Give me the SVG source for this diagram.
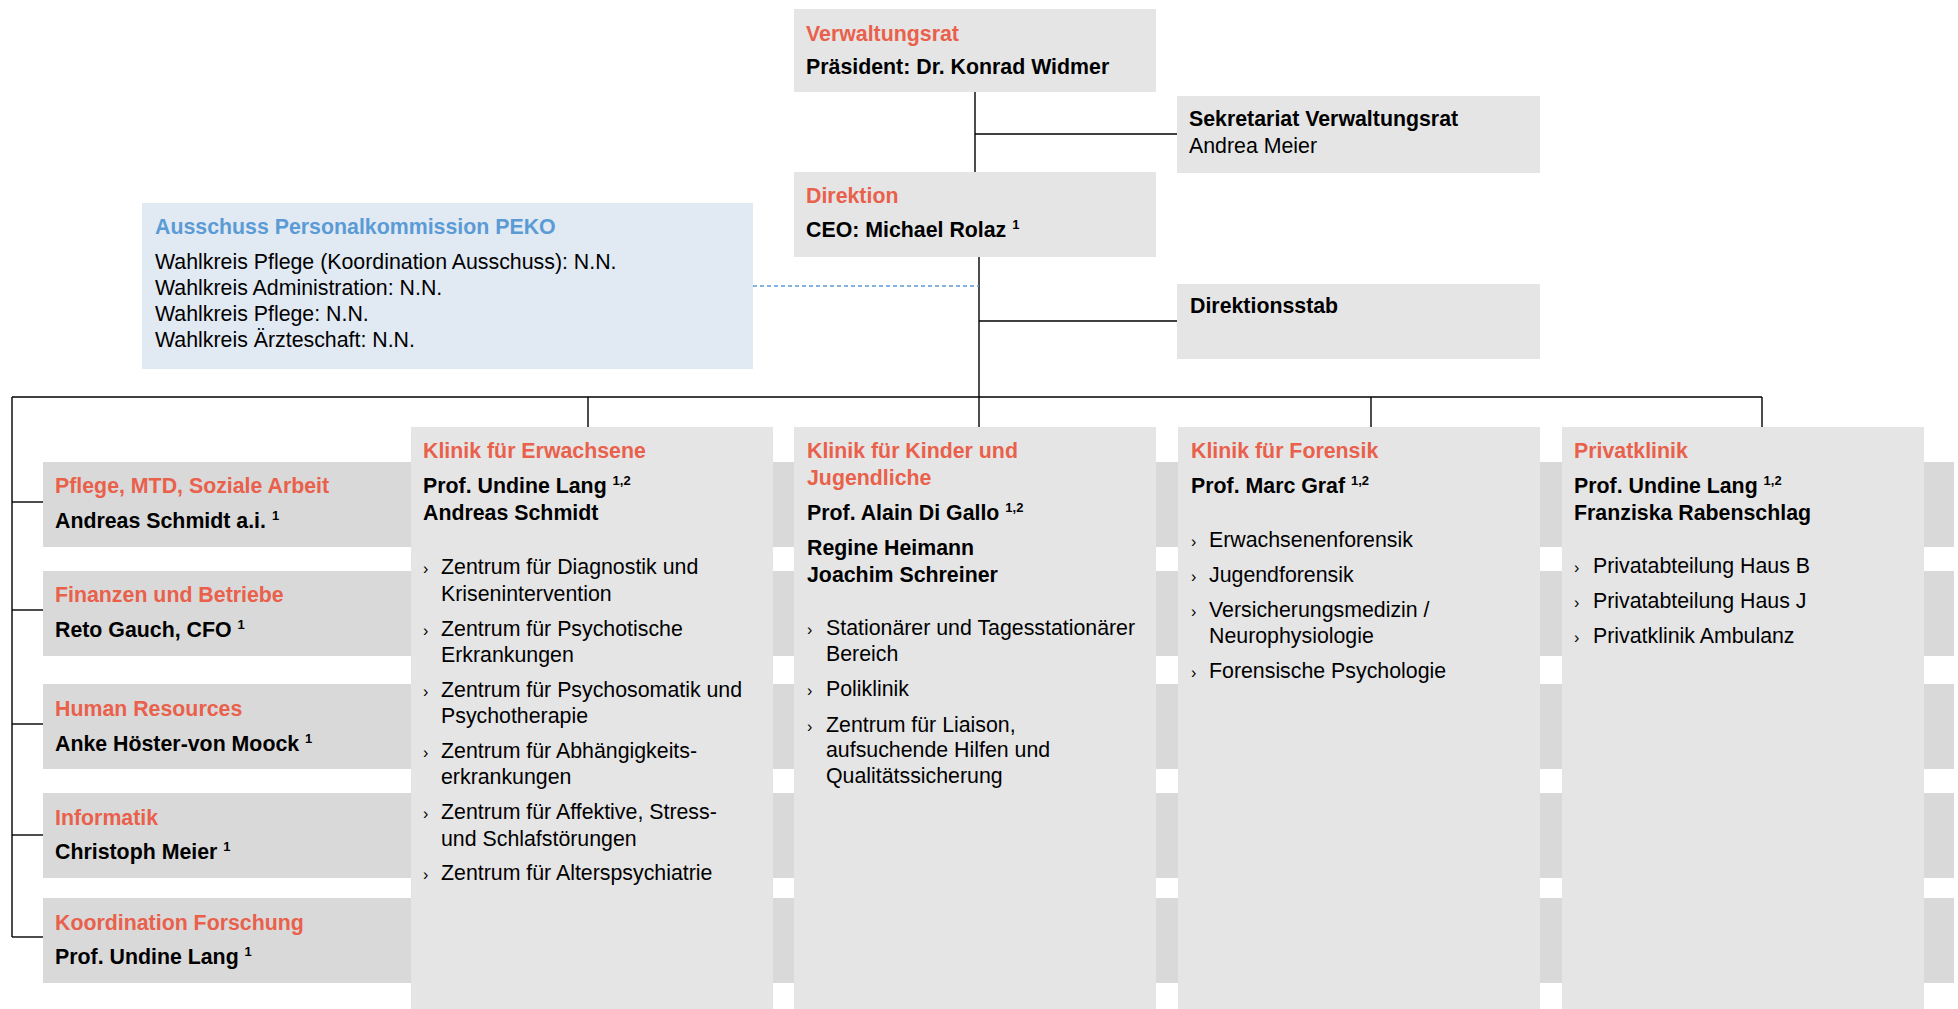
<svg xmlns="http://www.w3.org/2000/svg" width="1958" height="1009" viewBox="0 0 1958 1009">
<style>
text{font-family:"Liberation Sans",Arial,sans-serif;font-size:21.33px;fill:#000}
.h{font-weight:bold;fill:#e9604b}
.hb{font-weight:bold;fill:#5b9bd5}
.b{font-weight:bold}
.sup{font-size:13px;font-weight:bold}
.bul{font-size:16px}
.box{fill:#e5e5e5}
.band{fill:#d9d9d9}
.peko{fill:#e1e9f3}
.ln{stroke:#000;stroke-width:1.4;fill:none}
.dash{stroke:#5b9bd5;stroke-width:1.5;stroke-dasharray:4 3;fill:none}
</style>
<rect width="1958" height="1009" fill="#fff"/>

<g id="connectors">
<line class="ln" x1="975" y1="92" x2="975" y2="172"/>
<line class="ln" x1="975" y1="134" x2="1177" y2="134"/>
<line class="ln" x1="979" y1="257" x2="979" y2="427"/>
<line class="ln" x1="979" y1="321" x2="1177" y2="321"/>
<line class="dash" x1="753" y1="286" x2="979" y2="286"/>
<line class="ln" x1="12" y1="397" x2="1762" y2="397"/>
<line class="ln" x1="588" y1="397" x2="588" y2="427"/>
<line class="ln" x1="1371" y1="397" x2="1371" y2="427"/>
<line class="ln" x1="1762" y1="397" x2="1762" y2="427"/>
<line class="ln" x1="12" y1="397" x2="12" y2="937"/>
<line class="ln" x1="12" y1="502" x2="43" y2="502"/>
<line class="ln" x1="12" y1="610" x2="43" y2="610"/>
<line class="ln" x1="12" y1="724" x2="43" y2="724"/>
<line class="ln" x1="12" y1="835" x2="43" y2="835"/>
<line class="ln" x1="12" y1="937" x2="43" y2="937"/>
</g>

<g id="verwaltungsrat">
<rect class="box" x="794" y="9" width="362" height="83"/>
<text class="h" x="806" y="41">Verwaltungsrat</text>
<text class="b" x="806" y="74">Präsident: Dr. Konrad Widmer</text>
</g>

<g id="sekretariat">
<rect class="box" x="1177" y="96" width="363" height="77"/>
<text class="b" x="1189" y="126">Sekretariat Verwaltungsrat</text>
<text x="1189" y="153">Andrea Meier</text>
</g>

<g id="direktion">
<rect class="box" x="794" y="172" width="362" height="85"/>
<text class="h" x="806" y="203">Direktion</text>
<text class="b" x="806" y="237">CEO: Michael Rolaz <tspan class="sup" dy="-8">1</tspan></text>
</g>

<g id="direktionsstab">
<rect class="box" x="1177" y="284" width="363" height="75"/>
<text class="b" x="1190" y="313">Direktionsstab</text>
</g>

<g id="peko">
<rect class="peko" x="142" y="203" width="611" height="166"/>
<text class="hb" x="155" y="234">Ausschuss Personalkommission PEKO</text>
<text x="155" y="269">Wahlkreis Pflege (Koordination Ausschuss): N.N.</text>
<text x="155" y="295">Wahlkreis Administration: N.N.</text>
<text x="155" y="321">Wahlkreis Pflege: N.N.</text>
<text x="155" y="347">Wahlkreis Ärzteschaft: N.N.</text>
</g>

<g id="pflege">
<rect class="band" x="43" y="462" width="1911" height="85"/>
<text class="h" x="55" y="493">Pflege, MTD, Soziale Arbeit</text>
<text class="b" x="55" y="528">Andreas Schmidt a.i. <tspan class="sup" dy="-8">1</tspan></text>
</g>

<g id="finanzen">
<rect class="band" x="43" y="571" width="1911" height="85"/>
<text class="h" x="55" y="602">Finanzen und Betriebe</text>
<text class="b" x="55" y="637">Reto Gauch, CFO <tspan class="sup" dy="-8">1</tspan></text>
</g>

<g id="hr">
<rect class="band" x="43" y="684" width="1911" height="85"/>
<text class="h" x="55" y="716">Human Resources</text>
<text class="b" x="55" y="751">Anke Höster-von Moock <tspan class="sup" dy="-8">1</tspan></text>
</g>

<g id="informatik">
<rect class="band" x="43" y="793" width="1911" height="85"/>
<text class="h" x="55" y="825">Informatik</text>
<text class="b" x="55" y="859">Christoph Meier <tspan class="sup" dy="-8">1</tspan></text>
</g>

<g id="forschung">
<rect class="band" x="43" y="898" width="1911" height="85"/>
<text class="h" x="55" y="930">Koordination Forschung</text>
<text class="b" x="55" y="964">Prof. Undine Lang <tspan class="sup" dy="-8">1</tspan></text>
</g>

<g id="erwachsene">
<rect class="box" x="411" y="427" width="362" height="582"/>
<text class="h" x="423" y="458">Klinik für Erwachsene</text>
<text class="b" x="423" y="493">Prof. Undine Lang <tspan class="sup" dy="-8">1,2</tspan></text>
<text class="b" x="423" y="520">Andreas Schmidt</text>
<text class="bul" x="423" y="574">›</text><text x="441" y="574">Zentrum für Diagnostik und</text>
<text x="441" y="601">Krisenintervention</text>
<text class="bul" x="423" y="636">›</text><text x="441" y="636">Zentrum für Psychotische</text>
<text x="441" y="662">Erkrankungen</text>
<text class="bul" x="423" y="697">›</text><text x="441" y="697">Zentrum für Psychosomatik und</text>
<text x="441" y="723">Psychotherapie</text>
<text class="bul" x="423" y="758">›</text><text x="441" y="758">Zentrum für Abhängigkeits-</text>
<text x="441" y="784">erkrankungen</text>
<text class="bul" x="423" y="819">›</text><text x="441" y="819">Zentrum für Affektive, Stress-</text>
<text x="441" y="846">und Schlafstörungen</text>
<text class="bul" x="423" y="880">›</text><text x="441" y="880">Zentrum für Alterspsychiatrie</text>
</g>

<g id="kinder">
<rect class="box" x="794" y="427" width="362" height="582"/>
<text class="h" x="807" y="458">Klinik für Kinder und</text>
<text class="h" x="807" y="485">Jugendliche</text>
<text class="b" x="807" y="520">Prof. Alain Di Gallo <tspan class="sup" dy="-8">1,2</tspan></text>
<text class="b" x="807" y="555">Regine Heimann</text>
<text class="b" x="807" y="582">Joachim Schreiner</text>
<text class="bul" x="807" y="635">›</text><text x="826" y="635">Stationärer und Tagesstationärer</text>
<text x="826" y="661">Bereich</text>
<text class="bul" x="807" y="696">›</text><text x="826" y="696">Poliklinik</text>
<text class="bul" x="807" y="732">›</text><text x="826" y="732">Zentrum für Liaison,</text>
<text x="826" y="757">aufsuchende Hilfen und</text>
<text x="826" y="783">Qualitätssicherung</text>
</g>

<g id="forensik">
<rect class="box" x="1178" y="427" width="362" height="582"/>
<text class="h" x="1191" y="458">Klinik für Forensik</text>
<text class="b" x="1191" y="493">Prof. Marc Graf <tspan class="sup" dy="-8">1,2</tspan></text>
<text class="bul" x="1191" y="547">›</text><text x="1209" y="547">Erwachsenenforensik</text>
<text class="bul" x="1191" y="582">›</text><text x="1209" y="582">Jugendforensik</text>
<text class="bul" x="1191" y="617">›</text><text x="1209" y="617">Versicherungsmedizin /</text>
<text x="1209" y="643">Neurophysiologie</text>
<text class="bul" x="1191" y="678">›</text><text x="1209" y="678">Forensische Psychologie</text>
</g>

<g id="privatklinik">
<rect class="box" x="1562" y="427" width="362" height="582"/>
<text class="h" x="1574" y="458">Privatklinik</text>
<text class="b" x="1574" y="493">Prof. Undine Lang <tspan class="sup" dy="-8">1,2</tspan></text>
<text class="b" x="1574" y="520">Franziska Rabenschlag</text>
<text class="bul" x="1574" y="573">›</text><text x="1593" y="573">Privatabteilung Haus B</text>
<text class="bul" x="1574" y="608">›</text><text x="1593" y="608">Privatabteilung Haus J</text>
<text class="bul" x="1574" y="643">›</text><text x="1593" y="643">Privatklinik Ambulanz</text>
</g>
</svg>
